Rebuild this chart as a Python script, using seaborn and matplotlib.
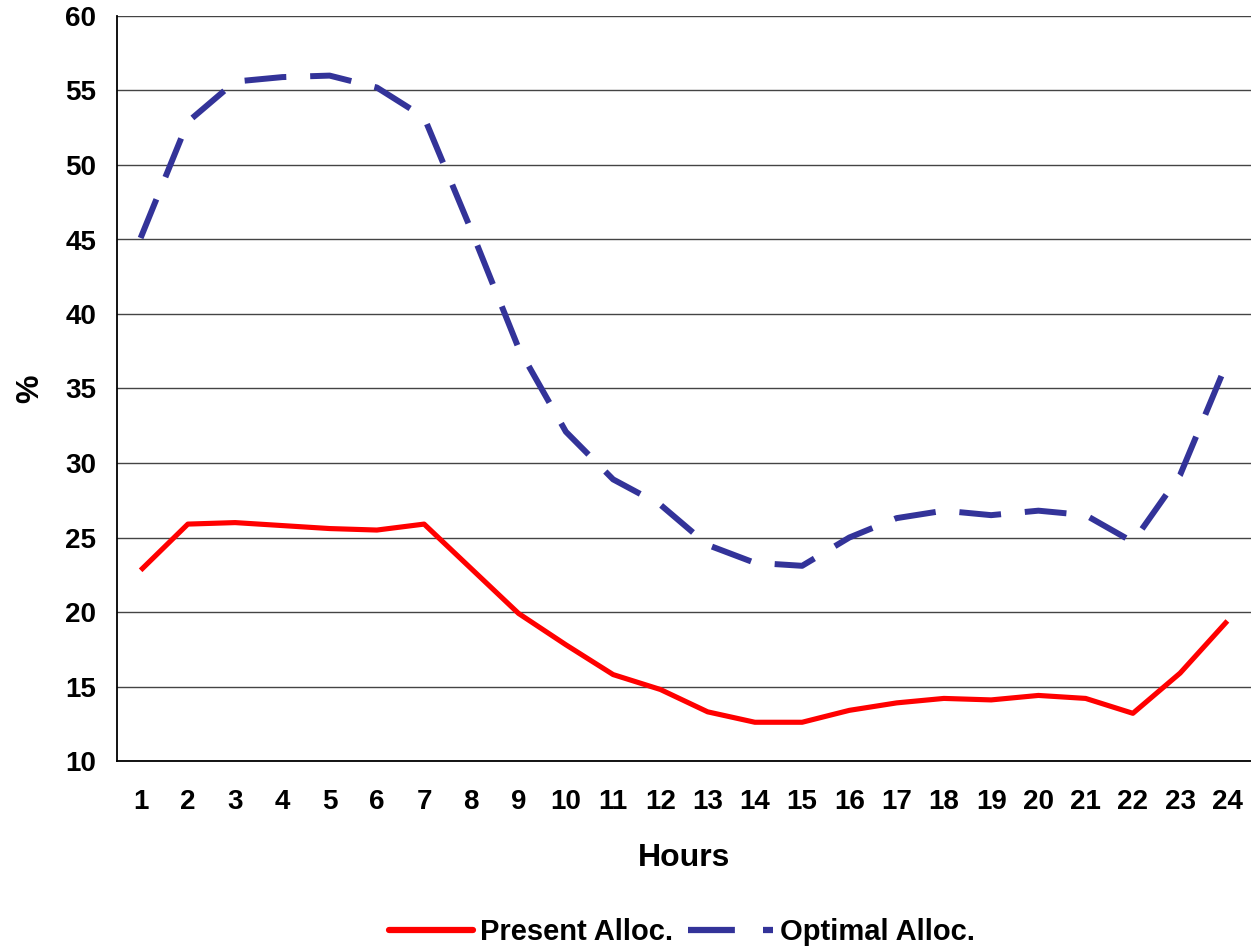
import numpy as np
import pandas as pd
import matplotlib
matplotlib.use("Agg")
import matplotlib.pyplot as plt
import seaborn as sns
from matplotlib.lines import Line2D

hours = list(range(1, 25))
present = [22.8, 25.9, 26.0, 25.8, 25.6, 25.5, 25.9, 22.9, 19.9, 17.8, 15.8, 14.8,
           13.3, 12.6, 12.6, 13.4, 13.9, 14.2, 14.1, 14.4, 14.2, 13.2, 15.9, 19.4]
optimal = [45.1, 52.9, 55.6, 55.9, 56.0, 55.2, 53.2, 45.6, 37.7, 32.1, 28.9, 27.2,
           24.5, 23.3, 23.1, 25.0, 26.3, 26.8, 26.5, 26.8, 26.5, 24.7, 29.2, 36.8]
series_names = ["Present Alloc.", "Optimal Alloc."]
y_ticks = list(range(10, 61, 5))

df = pd.DataFrame({
    "Hours": hours * 2,
    "value": present + optimal,
    "series": [series_names[0]] * 24 + [series_names[1]] * 24,
})

sns.set_style("white")
plt.rcParams['font.family'] = ['Liberation Sans', 'DejaVu Sans']
plt.rcParams['font.weight'] = 'bold'
plt.rcParams['text.color'] = 'black'
plt.rcParams['axes.labelcolor'] = 'black'
plt.rcParams['xtick.color'] = 'black'
plt.rcParams['ytick.color'] = 'black'

fig = plt.figure(figsize=(12.51, 9.46), dpi=100)
ax = fig.add_axes([117 / 1251, 1 - 761 / 946, 1 - 117 / 1251, (761 - 16) / 946])

palette = {series_names[0]: "#FF0000", series_names[1]: "#333399"}
sns.lineplot(data=df, x="Hours", y="value", hue="series", palette=palette,
             style="series", dashes={series_names[0]: "", series_names[1]: (7, 4)},
             ax=ax, legend=False)
ax.lines[0].set_linewidth(3.7)
ax.lines[1].set_linewidth(4.3)
for ln in ax.lines:
    ln.set_solid_capstyle('butt')
    ln.set_dash_capstyle('butt')

ax.set_xlim(0.5, 24.5)
ax.set_ylim(10, 60)
ax.set_yticks(y_ticks)
ax.set_yticklabels([str(t) for t in y_ticks], fontsize=20, fontweight='bold', color='black')
ax.set_xticks(hours)
ax.set_xticklabels([str(h) for h in hours], fontsize=20, fontweight='bold', color='black')
ax.set_xticks(np.arange(0.5, 25, 1), minor=True)
ax.tick_params(axis='x', which='major', length=0, pad=20)
ax.tick_params(axis='x', which='minor', length=8, width=1.2, color='black', direction='out')
ax.tick_params(axis='y', which='major', length=7, width=1.2, color='black', direction='out', pad=8)

ax.yaxis.grid(True, color='#444444', linewidth=1.0)
ax.set_axisbelow(True)
for s in ['top', 'right']:
    ax.spines[s].set_visible(False)
for s in ['left', 'bottom']:
    ax.spines[s].set_color('black')
    ax.spines[s].set_linewidth(1.3)

ax.set_xlabel("Hours", fontsize=23, fontweight='bold', labelpad=20, color='black')
ax.set_ylabel("%", fontsize=23, fontweight='bold', labelpad=14, color='black')

handles = [Line2D([0], [0], color="#FF0000", lw=4.5, solid_capstyle='round'),
           Line2D([0], [0], color="#333399", lw=4.5, dashes=(7.5, 4.5), dash_capstyle='butt')]
fig.legend(handles, series_names, loc='center', bbox_to_anchor=(0.545, 1 - 932 / 946),
           ncol=2, frameon=False, handlelength=2.9, handletextpad=0.25,
           columnspacing=0.5, prop={'weight': 'bold', 'size': 21})

fig.savefig("out.png", dpi=100)
